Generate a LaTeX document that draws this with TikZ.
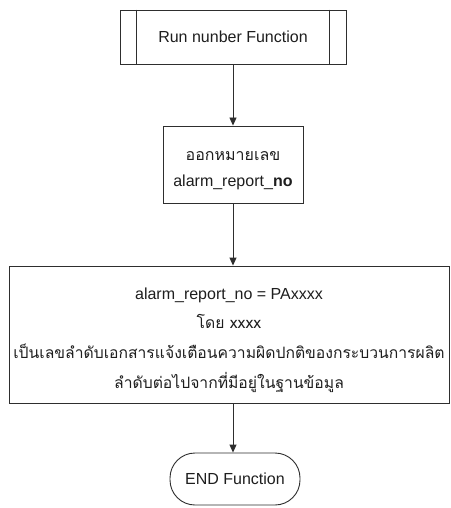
\documentclass[tikz,border=0pt]{standalone}
\usepackage{fontspec}
\setmainfont{Liberation Sans}
\newfontfamily\thaifont[Script=Thai]{Loma}
\usetikzlibrary{arrows.meta,calc}
\definecolor{ink}{HTML}{2E2E2E}
\definecolor{txt}{HTML}{1E1E1E}
\tikzset{
  box/.style={draw=ink, line width=0.9pt, rectangle, inner sep=0pt},
  label text/.style={align=center, text=txt, inner sep=0pt},
  flow/.style={draw=ink, line width=0.9pt, -{Triangle[length=8pt,width=7pt]}},
}
\begin{document}
\begin{tikzpicture}[x=1pt,y=-1pt]
  \useasboundingbox (0,0) rectangle (450,508);
  \fill[white] (0,0) rectangle (450,508);

  % predefined-process start block
  \node[box, label text, minimum width=226pt, minimum height=54pt,
        font=\fontsize{16}{20}\selectfont] (start) at (233,37) {Run nunber Function};
  \draw[ink, line width=0.9pt] ($(start.north west)+(17,0)$) -- ($(start.south west)+(17,0)$);
  \draw[ink, line width=0.9pt] ($(start.north east)+(-17,0)$) -- ($(start.south east)+(-17,0)$);

  % issue number
  \node[box, minimum width=140pt, minimum height=77pt] (issue) at (233,164.5) {};
  \node[label text, font=\fontsize{16}{26}\selectfont] (issuetext) at (233,171)
        {{\thaifont ออกหมายเลข}\\alarm\_report\_\textbf{no}};

  % number format description
  \node[box, minimum width=440pt, minimum height=137pt] (format) at (229,334.5) {};
  \node[label text, font=\fontsize{16}{29.7}\selectfont] (formattext) at (229,340)
        {alarm\_report\_no = PAxxxx\\
         {\thaifont\fontsize{15.7}{29.7}\selectfont โดย xxxx}\\
         {\thaifont\fontsize{15.7}{29.7}\selectfont เป็นเลขลำดับเอกสารแจ้งเตือนความผิดปกติของกระบวนการผลิต}\\
         {\thaifont\fontsize{15.7}{29.7}\selectfont ลำดับต่อไปจากที่มีอยู่ในฐานข้อมูล}};

  % terminator
  \node[box, label text, minimum width=130pt, minimum height=52pt, rounded corners=25pt,
        font=\fontsize{16}{20}\selectfont] (finish) at (235,479) {END Function};

  \draw[flow] (start.south) -- (issue.north);
  \draw[flow] (issue.south) -- (issue.south |- format.north);
  \draw[flow] ($(format.south -| finish.north)+(-2,0)$) -- ($(finish.north)+(-2,0)$);
\end{tikzpicture}
\end{document}
